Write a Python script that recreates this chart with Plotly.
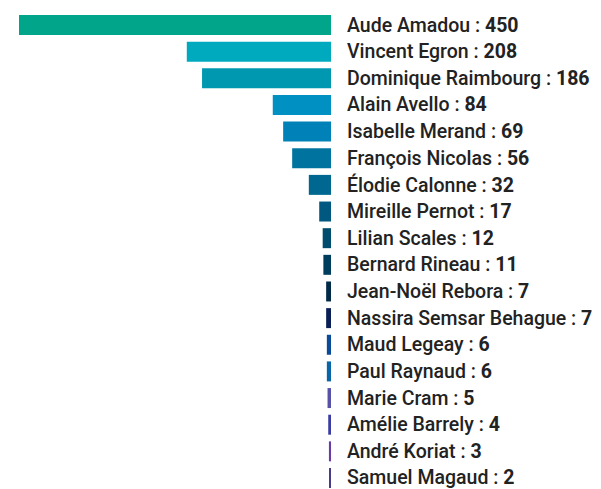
import plotly.graph_objects as go

names = ["Aude Amadou", "Vincent Egron", "Dominique Raimbourg", "Alain Avello",
         "Isabelle Merand", "François Nicolas", "Élodie Calonne", "Mireille Pernot",
         "Lilian Scales", "Bernard Rineau", "Jean-Noël Rebora", "Nassira Semsar Behague",
         "Maud Legeay", "Paul Raynaud", "Marie Cram", "Amélie Barrely", "André Koriat",
         "Samuel Magaud"]
values = [450, 208, 186, 84, 69, 56, 32, 17, 12, 11, 7, 7, 6, 6, 5, 4, 3, 2]
colors = ["#00a58a", "#00aabe", "#0098b0", "#0090c2", "#0081b8", "#00749f",
          "#006890", "#005880", "#004c6c", "#003d5c", "#002a48", "#0a1f55",
          "#0a4a96", "#0865a8", "#5552a8", "#3a3ca0", "#6a3aa5", "#4a3a8a"]

idx = list(range(len(names)))
labels = [f"{n} : <b>{v}</b>" for n, v in zip(names, values)]

fig = go.Figure(go.Bar(
    x=values, y=idx, orientation="h",
    marker=dict(color=colors, line=dict(width=0)),
    width=0.75, hoverinfo="skip",
))

for i, t in zip(idx, labels):
    fig.add_annotation(x=1, xref="paper", y=i, yref="y", text=t,
                       xanchor="left", yanchor="middle", xshift=14,
                       showarrow=False,
                       font=dict(family="Roboto", size=19.5, color="#222222",
                                 weight=500))

fig.update_layout(
    width=601, height=489,
    margin=dict(l=11, r=278, t=0, b=8, autoexpand=False),
    plot_bgcolor="white", paper_bgcolor="white",
    showlegend=False,
)
fig.update_xaxes(range=[450, 0], showgrid=False, zeroline=False,
                 showticklabels=False, fixedrange=True)
fig.update_yaxes(range=[17.413, -0.638], showgrid=False, zeroline=False,
                 showticklabels=False, ticks="", fixedrange=True)

fig.write_html("out.html")
